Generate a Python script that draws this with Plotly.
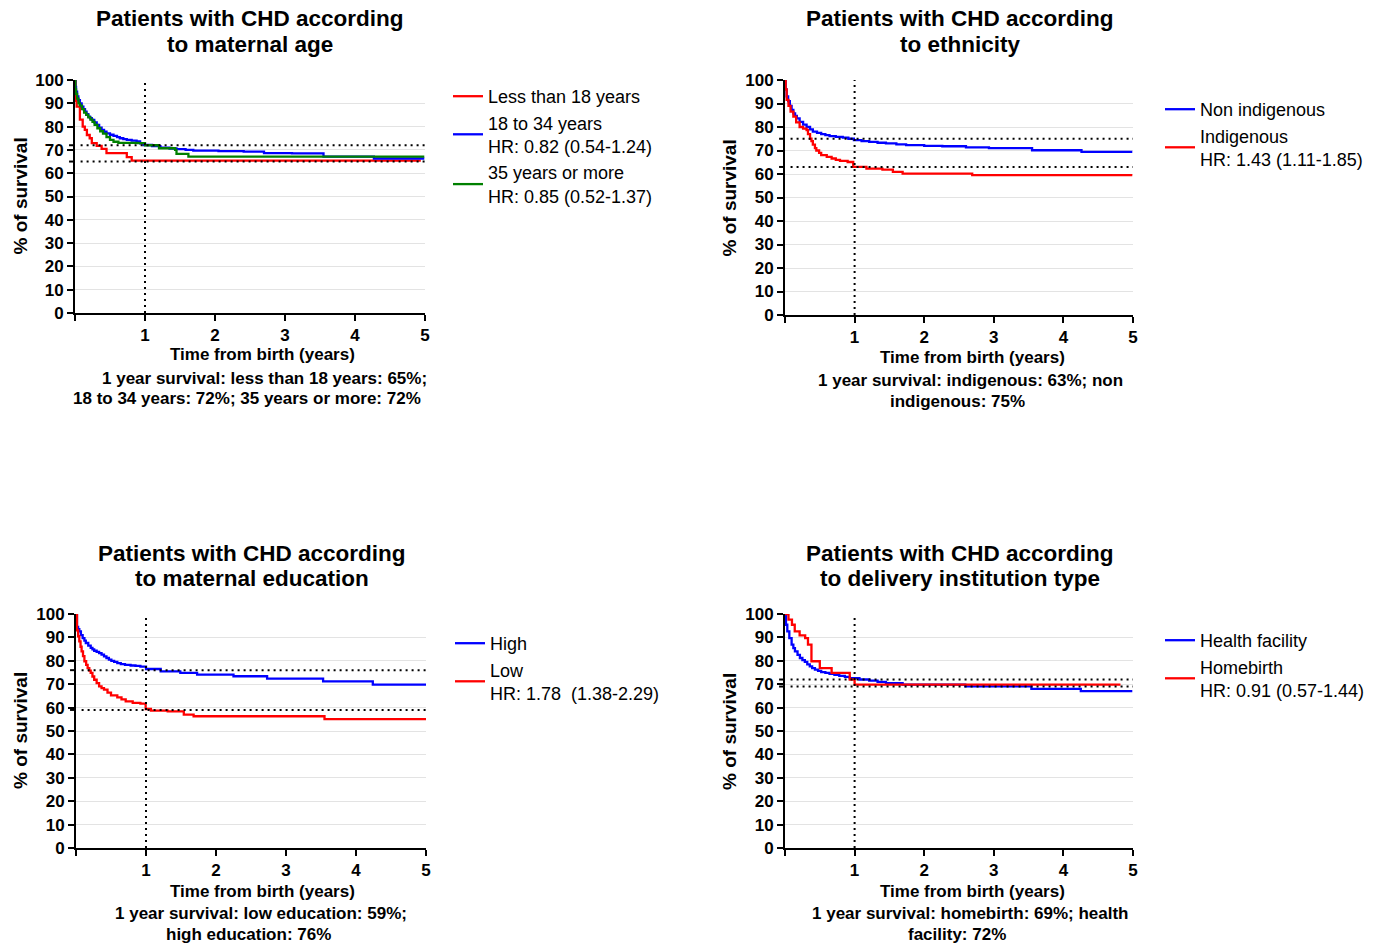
import plotly.graph_objects as go

W, H = 1392, 945
FONT = "Liberation Sans, Arial, sans-serif"
RED, BLUE, GREEN = "#ff0000", "#0000ff", "#008000"

# ---------------- data ----------------
# Panel 1: maternal age
age_lt18_t = [0, 0.01, 0.024, 0.07, 0.11, 0.14, 0.17, 0.21, 0.24, 0.31, 0.38, 0.45, 0.74, 0.81, 4.94]
age_lt18_s = [100, 91, 88.6, 83, 80, 78.6, 76.4, 75, 72.9, 71.7, 70.4, 68.6, 66.9, 65.4, 65.4]
age_18_34_t = [0, 0.005, 0.015, 0.03, 0.048, 0.07, 0.095, 0.12, 0.143, 0.165, 0.19, 0.215, 0.24, 0.275,
               0.31, 0.345, 0.38, 0.415, 0.45, 0.5, 0.55, 0.6, 0.64, 0.69, 0.74, 0.81, 0.88, 0.93, 0.98,
               1.1, 1.22, 1.35, 1.45, 1.58, 1.69, 2.05, 2.41, 2.7, 3.1, 3.55, 4.27, 4.99]
age_18_34_s = [100, 97, 95, 93, 91.4, 90, 88.6, 87.5, 86.4, 85.3, 84.3, 83.6, 82.9, 81.8,
               80.7, 79.6, 78.6, 77.8, 77.1, 76.5, 76, 75.5, 75, 74.6, 74.3, 74, 73.6, 72.8, 72.1,
               71.6, 71, 70.6, 70.3, 70, 69.7, 69.5, 69.3, 68.6, 68.5, 67.1, 66.3, 66.3]
age_35p_t = [0, 0.005, 0.015, 0.03, 0.05, 0.07, 0.1, 0.13, 0.16, 0.19, 0.22, 0.25, 0.28, 0.32, 0.36,
             0.4, 0.45, 0.5, 0.55, 0.62, 0.9, 1.0, 1.2, 1.43, 1.45, 1.62, 4.99]
age_35p_s = [100, 96, 94, 92, 90, 89, 87.5, 86, 85, 84, 83, 82, 80.7, 79.3, 78,
             77, 75.5, 74.3, 73.5, 73, 72.9, 72, 70.7, 70, 68.3, 67.1, 67.1]
age_1yr = [72, 65]

# Panel 2: ethnicity
eth_non_t = [0, 0.01, 0.024, 0.045, 0.07, 0.095, 0.12, 0.145, 0.17, 0.21, 0.26, 0.31, 0.36, 0.40,
             0.46, 0.52, 0.58, 0.64, 0.73, 0.83, 0.91, 0.99, 1.1, 1.21, 1.33, 1.45, 1.6, 1.74, 2.0,
             2.26, 2.6, 2.93, 3.55, 4.26, 4.99]
eth_non_s = [100, 96, 93, 91, 89, 87.3, 85.8, 84.7, 83.7, 82.2, 81, 80, 79, 78,
             77.5, 77, 76.5, 76.1, 75.8, 75.5, 75, 74.4, 74, 73.7, 73.3, 73, 72.6, 72.3, 72,
             71.8, 71.3, 71, 70.1, 69.4, 69.4]
eth_ind_t = [0, 0.01, 0.024, 0.05, 0.08, 0.12, 0.16, 0.21, 0.26, 0.31, 0.33, 0.36, 0.38, 0.40, 0.43,
             0.45, 0.49, 0.52, 0.6, 0.67, 0.73, 0.79, 0.9, 0.98, 1.17, 1.4, 1.55, 1.69, 2.69, 4.99]
eth_ind_s = [100, 96, 91.5, 89, 86.5, 84.4, 82, 80, 79.3, 78.7, 77, 75, 74, 72.5, 71,
             70, 69, 68, 67.3, 66.6, 66, 65.6, 65.1, 63, 62.3, 61.9, 60.9, 60.2, 59.5, 59.5]
eth_1yr = [75, 63]

# Panel 3: maternal education
edu_high_t = [0, 0.014, 0.03, 0.047, 0.07, 0.095, 0.12, 0.14, 0.175, 0.21, 0.235, 0.26, 0.295, 0.33,
              0.365, 0.40, 0.435, 0.47, 0.505, 0.545, 0.59, 0.64, 0.7, 0.78, 0.85, 0.92, 1.0, 1.21,
              1.49, 1.73, 2.25, 2.73, 3.53, 4.24, 5.0]
edu_high_s = [100, 94.5, 93.5, 92.6, 91, 89.7, 88.6, 87.6, 86.5, 85.5, 84.9, 84.3, 83.8, 83.3,
              82.6, 81.9, 81.2, 80.5, 80, 79.5, 79, 78.6, 78.3, 78, 77.8, 77.5, 76.5, 75.5,
              74.8, 74.1, 73.4, 72.4, 71.2, 69.8, 69.8]
edu_low_t = [0, 0.014, 0.03, 0.047, 0.065, 0.08, 0.1, 0.12, 0.145, 0.166, 0.19, 0.21, 0.235, 0.26,
             0.295, 0.33, 0.365, 0.40, 0.45, 0.50, 0.59, 0.65, 0.71, 0.81, 0.92, 0.995, 1.07, 1.31,
             1.54, 1.68, 3.55, 5.0]
edu_low_s = [100, 93, 90.5, 88.3, 86, 84, 82, 79.8, 78.3, 76.9, 75.8, 74.8, 73.3, 71.9,
             70.5, 69.1, 68.3, 67.7, 66.4, 65.2, 64.4, 63.5, 62.7, 62, 61.7, 59.4, 58.7, 58.4,
             57, 56.3, 55.1, 55.1]
edu_1yr = [76, 59]

# Panel 4: delivery institution
del_hf_t = [0, 0.014, 0.033, 0.062, 0.095, 0.12, 0.143, 0.18, 0.214, 0.25, 0.285, 0.32, 0.356, 0.39,
            0.43, 0.475, 0.52, 0.58, 0.64, 0.71, 0.78, 0.86, 0.93, 1.07, 1.21, 1.33, 1.45, 1.69,
            2.59, 3.54, 4.25, 4.99]
del_hf_s = [100, 95.4, 92.6, 89.7, 86.9, 85.4, 84, 82.5, 81.2, 80.3, 79.5, 78.5, 77.6, 76.9,
            76.2, 75.7, 75.2, 74.8, 74.4, 74, 73.6, 73.1, 72.6, 72, 71.5, 71, 70.5, 69.8,
            69.1, 68, 67, 67]
del_home_t = [0, 0.05, 0.1, 0.14, 0.21, 0.29, 0.33, 0.38, 0.5, 0.67, 0.93, 1.0, 4.82]
del_home_s = [100, 97.6, 95.4, 92.6, 90.9, 89.7, 86.9, 79.8, 76.9, 74.8, 72, 69.8, 69.8]
del_1yr = [72, 69]

x_tick_vals = [0, 1, 2, 3, 4, 5]
x_tick_text = ["", "1", "2", "3", "4", "5"]
y_tick_vals = [0, 10, 20, 30, 40, 50, 60, 70, 80, 90, 100]

panels = [
    dict(title=["Patients with CHD according", "to maternal age"],
         px=(75, 425), py=(80, 313), title_y=(18, 44), title_cx=250, ytitle_x=20,
         xtitle=(262, 355), cap=[("1 year survival: less than 18 years: 65%;", 264, 378),
                                 ("18 to 34 years: 72%; 35 years or more: 72%", 247, 398)],
         series=[("Less than 18 years", age_lt18_t, age_lt18_s, RED),
                 ("18 to 34 years<br>HR: 0.82 (0.54-1.24)", age_18_34_t, age_18_34_s, BLUE),
                 ("35 years or more<br>HR: 0.85 (0.52-1.37)", age_35p_t, age_35p_s, GREEN)],
         one=age_1yr, leg=(448, 78)),
    dict(title=["Patients with CHD according", "to ethnicity"],
         px=(785, 1133), py=(80, 315), title_y=(18, 44), title_cx=960, ytitle_x=729,
         xtitle=(972, 357), cap=[("1 year survival: indigenous: 63%; non", 970, 380),
                                 ("indigenous: 75%", 957, 401)],
         series=[("Non indigenous", eth_non_t, eth_non_s, BLUE),
                 ("Indigenous<br>HR: 1.43 (1.11-1.85)", eth_ind_t, eth_ind_s, RED)],
         one=eth_1yr, leg=(1160, 91)),
    dict(title=["Patients with CHD according", "to maternal education"],
         px=(76, 426), py=(614, 848), title_y=(553, 578), title_cx=252, ytitle_x=20,
         xtitle=(262, 891), cap=[("1 year survival: low education: 59%;", 261, 913),
                                 ("high education: 76%", 248, 934)],
         series=[("High", edu_high_t, edu_high_s, BLUE),
                 ("Low<br>HR: 1.78 \u00a0(1.38-2.29)", edu_low_t, edu_low_s, RED)],
         one=edu_1yr, leg=(450, 625)),
    dict(title=["Patients with CHD according", "to delivery institution type"],
         px=(785, 1133), py=(614, 848), title_y=(553, 578), title_cx=960, ytitle_x=729,
         xtitle=(972, 891), cap=[("1 year survival: homebirth: 69%; health", 970, 913),
                                 ("facility: 72%", 957, 934)],
         series=[("Health facility", del_hf_t, del_hf_s, BLUE),
                 ("Homebirth<br>HR: 0.91 (0.57-1.44)", del_home_t, del_home_s, RED)],
         one=del_1yr, leg=(1160, 622)),
]

fig = go.Figure()
layout = dict(width=W, height=H, margin=dict(l=0, r=0, t=0, b=0, autoexpand=False),
              paper_bgcolor="white", plot_bgcolor="white",
              font=dict(family=FONT, color="black"))
annotations = []
shapes = []

def fx(p):
    return p / W

def fy(p):
    return 1 - p / H

for i, p in enumerate(panels):
    k = "" if i == 0 else str(i + 1)
    xa, ya = "x" + k, "y" + k
    lg = "legend" + k
    for name, t, s, c in p["series"]:
        fig.add_trace(go.Scatter(x=t, y=s, mode="lines", name=name, line=dict(color=c, width=2.3, shape="hv"),
                                 xaxis=xa, yaxis=ya, legend=lg, hoverinfo="skip"))
    layout["xaxis" + k] = dict(domain=[fx(p["px"][0]), fx(p["px"][1])], anchor=ya, range=[0, 5],
                               tickvals=x_tick_vals, ticktext=x_tick_text, showgrid=False, zeroline=False,
                               showline=True, linecolor="black", linewidth=2, ticks="outside",
                               ticklen=6, tickwidth=2, tickcolor="black", ticklabelstandoff=0,
                               automargin=False,
                               tickfont=dict(family=FONT, size=17, color="black", weight="bold"),
                               fixedrange=True)
    layout["yaxis" + k] = dict(domain=[fy(p["py"][1]), fy(p["py"][0])], anchor=xa, range=[0, 100],
                               tickvals=y_tick_vals, showgrid=True, gridcolor="#e3e3e3", gridwidth=1,
                               zeroline=False, showline=True, linecolor="black", linewidth=2,
                               ticks="outside", ticklen=6, tickwidth=2, tickcolor="black",
                               automargin=False,
                               tickfont=dict(family=FONT, size=17, color="black", weight="bold"),
                               fixedrange=True)
    layout[lg] = dict(x=fx(p["leg"][0]), y=fy(p["leg"][1]), xanchor="left", yanchor="top",
                      bgcolor="rgba(0,0,0,0)", borderwidth=0, itemwidth=30,
                      font=dict(family=FONT, size=18, color="black"), valign="middle")
    # reference lines
    shapes.append(dict(type="line", xref=xa, yref=ya, x0=1, x1=1, y0=0, y1=100,
                       line=dict(color="black", width=2, dash="2px,4px")))
    for v in p["one"]:
        shapes.append(dict(type="line", xref=xa, yref=ya, x0=0.08, x1=5, y0=v, y1=v,
                           line=dict(color="black", width=2, dash="2px,4px")))
        shapes.append(dict(type="line", xref=xa + " domain", yref=ya, x0=-0.017, x1=0, y0=v, y1=v,
                           line=dict(color="black", width=2)))
    # titles
    for line, yy in zip(p["title"], p["title_y"]):
        annotations.append(dict(text=line, x=fx(p["title_cx"]), y=fy(yy), xref="paper", yref="paper",
                                showarrow=False, xanchor="center", yanchor="middle",
                                font=dict(family=FONT, size=22.5, color="black", weight="bold")))
    # y title
    annotations.append(dict(text="% of survival", x=fx(p["ytitle_x"]), y=fy((p["py"][0] + p["py"][1]) / 2),
                            xref="paper", yref="paper", showarrow=False, textangle=-90,
                            xanchor="center", yanchor="middle",
                            font=dict(family=FONT, size=19, color="black", weight="bold")))
    # x title
    annotations.append(dict(text="Time from birth (years)", x=fx(p["xtitle"][0]), y=fy(p["xtitle"][1]),
                            xref="paper", yref="paper", showarrow=False, xanchor="center", yanchor="middle",
                            font=dict(family=FONT, size=17, color="black", weight="bold")))
    for txt, cx, cy in p["cap"]:
        annotations.append(dict(text=txt, x=fx(cx), y=fy(cy), xref="paper", yref="paper",
                                showarrow=False, xanchor="center", yanchor="middle",
                                font=dict(family=FONT, size=17, color="black", weight="bold")))

layout["annotations"] = annotations
layout["shapes"] = shapes
layout["showlegend"] = True
fig.update_layout(**layout)
fig.write_html("out.html", config={"displayModeBar": False},
               post_script="document.body.style.margin='0';")
